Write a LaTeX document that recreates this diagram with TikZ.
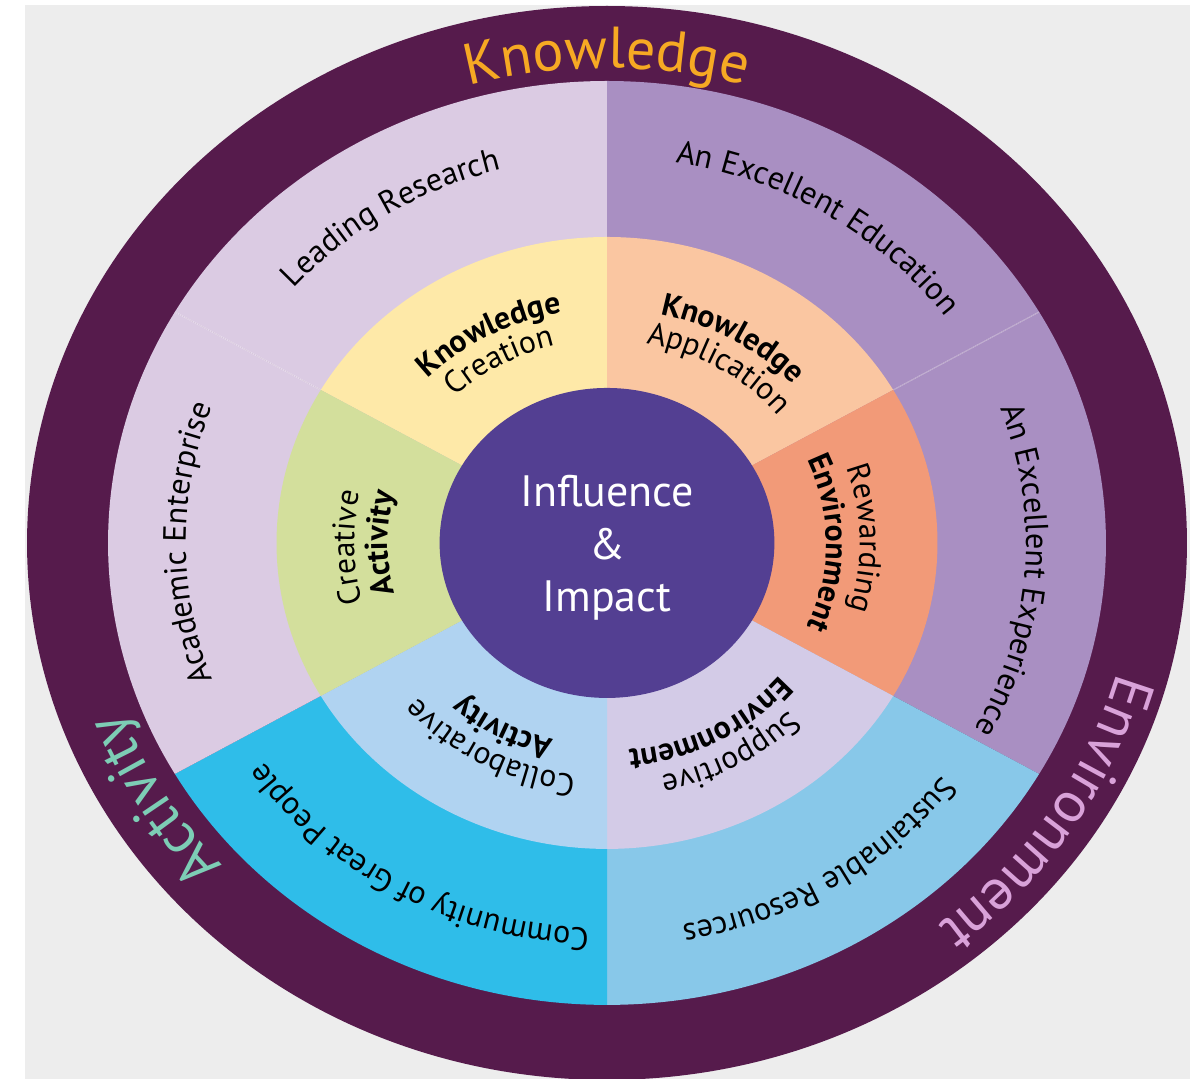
\documentclass[tikz,border=0pt]{standalone}
\usepackage{fontspec}
\setmainfont{PT Sans}
\usepackage{xcolor}
\usetikzlibrary{decorations.text}

\definecolor{ringdark}{HTML}{561B4C}
\definecolor{lavlight}{HTML}{DBCBE3}
\definecolor{lavmid}{HTML}{A98FC2}
\definecolor{skyblue}{HTML}{88C8E9}
\definecolor{cyanblue}{HTML}{2FBDE9}
\definecolor{creamyellow}{HTML}{FEE9A8}
\definecolor{peach}{HTML}{FAC6A1}
\definecolor{salmon}{HTML}{F29A78}
\definecolor{lavpale}{HTML}{D3CBE7}
\definecolor{bluepale}{HTML}{B0D3F1}
\definecolor{greenpale}{HTML}{D3DF9C}
\definecolor{corepurple}{HTML}{533F92}
\definecolor{knowcol}{HTML}{F6A923}
\definecolor{envcol}{HTML}{D9A2D9}
\definecolor{actcol}{HTML}{7DCDB5}
\definecolor{bggray}{HTML}{EDEDED}

\newcommand{\segfont}{\fontsize{18.3}{21}\selectfont}
\newcommand{\midfont}{\fontsize{18}{21}\selectfont}
\newcommand{\bigfont}{\fontsize{33}{36}\selectfont}

% text set clockwise on an arc round the centre, tops outwards
% #1 colour, #2 centre angle, #3 baseline radius, #4 font, #5 text
\newcommand{\arclabel}[5][black]{%
  \path[decorate, decoration={text along path, text align=center, text color=#1,
      text={|#4|#5}}]
    ({#2+60}:#3) arc[start angle={#2+60}, end angle={#2-60}, radius=#3];}

\begin{document}
\begin{tikzpicture}[
  x={(0.0216cm,0)}, y={(0,0.02cm)},
  coretext/.style={align=center, text=white, font=\fontsize{25}{29.8}\selectfont},
  seam/.style={white, opacity=0.35, line width=0.6pt}
]
  \useasboundingbox (-562.04,-536) rectangle (550.93,543);
  \fill[white] (-562.04,-536) rectangle (550.93,543);
  \fill[bggray] (-538.9,-536) rectangle (539.8,538);

  % rings
  \fill[ringdark] (0,0) circle[radius=537];
  \foreach \a/\col in {90/lavlight, 30/lavmid, -30/lavmid, -90/skyblue, -150/cyanblue, 150/lavlight}
    \fill[\col] (0,0) -- (\a:462) arc[start angle=\a, end angle=\a+60, radius=462] -- cycle;
  \draw[seam] (30:306) -- (30:462);
  \draw[seam] (150:306) -- (150:462);
  \foreach \a/\col in {90/creamyellow, 30/peach, -30/salmon, -90/lavpale, -150/bluepale, 150/greenpale}
    \fill[\col] (0,0) -- (\a:306) arc[start angle=\a, end angle=\a+60, radius=306] -- cycle;
  \fill[corepurple] (0,0) circle[radius=155];

  \node[coretext] (core) at (0,-5) {Influence\\\&\\Impact};

  % outer band
  \arclabel[knowcol]{90}{475}{\bigfont}{Knowledge}
  \arclabel[envcol]{-32}{490}{\bigfont}{Environment}
  \arclabel[actcol]{210}{480}{\bigfont}{Activity}

  % segments
  \arclabel{123}{386}{\segfont}{Leading Research}
  \arclabel{57}{386}{\segfont}{An Excellent Education}
  \arclabel{-4}{388}{\segfont}{An Excellent Experience}
  \arclabel{-57}{388}{\segfont}{Sustainable Resources}
  \arclabel{240}{386}{\segfont}{Community of Great People}
  \arclabel{180}{390}{\segfont}{Academic Enterprise}

  % middle ring
  \arclabel{119}{234}{\midfont\bfseries}{Knowledge}
  \arclabel{120}{203}{\midfont}{Creation}
  \arclabel{59}{234}{\midfont\bfseries}{Knowledge}
  \arclabel{58}{203}{\midfont}{Application}
  \arclabel{1}{234}{\midfont}{Rewarding}
  \arclabel{0}{203}{\midfont\bfseries}{Environment}
  \arclabel{-60}{238}{\midfont}{Supportive}
  \arclabel{-61}{208}{\midfont\bfseries}{Environment}
  \arclabel{241}{234}{\midfont}{Collaborative}
  \arclabel{241}{203}{\midfont\bfseries}{Activity}
  \arclabel{181}{234}{\midfont}{Creative}
  \arclabel{180}{203}{\midfont\bfseries}{Activity}
\end{tikzpicture}
\end{document}
